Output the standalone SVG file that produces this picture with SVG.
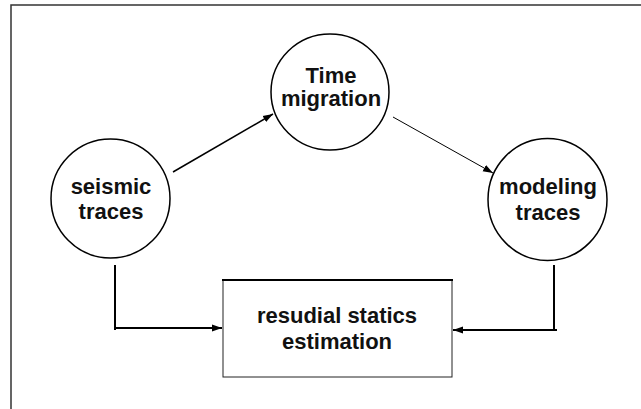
<svg xmlns="http://www.w3.org/2000/svg" width="641" height="409" viewBox="0 0 641 409">
  <style>
    .node { fill: #ffffff; stroke: #000000; stroke-width: 1.5; }
    .label { font-family: "Liberation Sans", Arial, sans-serif; font-size: 22px; font-weight: bold; fill: #111111; text-anchor: middle; }
    .edge { fill: none; stroke: #000000; }
    .frame { fill: none; stroke: #333333; stroke-width: 1.5; }
  </style>
  <defs>
    <marker id="arrow" viewBox="0 0 10 10" refX="10" refY="5" markerWidth="10" markerHeight="10" markerUnits="userSpaceOnUse" orient="auto">
      <path d="M0,1.5 L10,5 L0,8.5 Z" fill="#000000"/>
    </marker>
  </defs>

  <rect width="641" height="409" fill="#ffffff"/>
  <!-- page frame: top and left rules -->
  <path class="frame" d="M11,409 L11,5 L641,5"/>

  <g id="connectors">
    <line class="edge" stroke-width="1.5" x1="173" y1="172" x2="273" y2="114" marker-end="url(#arrow)"/>
    <line class="edge" stroke-width="1" x1="393" y1="117" x2="493" y2="173" marker-end="url(#arrow)"/>
    <path class="edge" stroke-width="2" d="M115,265 L115,330 M114,328 L222,328" marker-end="url(#arrow)"/>
    <path class="edge" stroke-width="2" d="M554,265 L554,331 M557,330 L453,330" marker-end="url(#arrow)"/>
  </g>

  <g id="node-seismic">
    <ellipse class="node" cx="110.5" cy="198.5" rx="59.5" ry="59.5"/>
    <text class="label" x="111" y="194">seismic</text>
    <text class="label" x="111" y="219">traces</text>
  </g>

  <g id="node-time-migration">
    <ellipse class="node" cx="330" cy="92" rx="59" ry="58"/>
    <text class="label" x="331" y="83">Time</text>
    <text class="label" x="331" y="106">migration</text>
  </g>

  <g id="node-modeling">
    <ellipse class="node" cx="547.5" cy="199.5" rx="59.5" ry="61"/>
    <text class="label" x="548" y="194">modeling</text>
    <text class="label" x="548" y="220">traces</text>
  </g>

  <g id="node-statics">
    <rect x="223" y="280" width="229" height="97" fill="#ffffff" stroke="#222222" stroke-width="1"/>
    <line x1="222" y1="280" x2="453" y2="280" stroke="#000000" stroke-width="2"/>
    <text class="label" x="337" y="323">resudial statics</text>
    <text class="label" x="337" y="349">estimation</text>
  </g>
</svg>
